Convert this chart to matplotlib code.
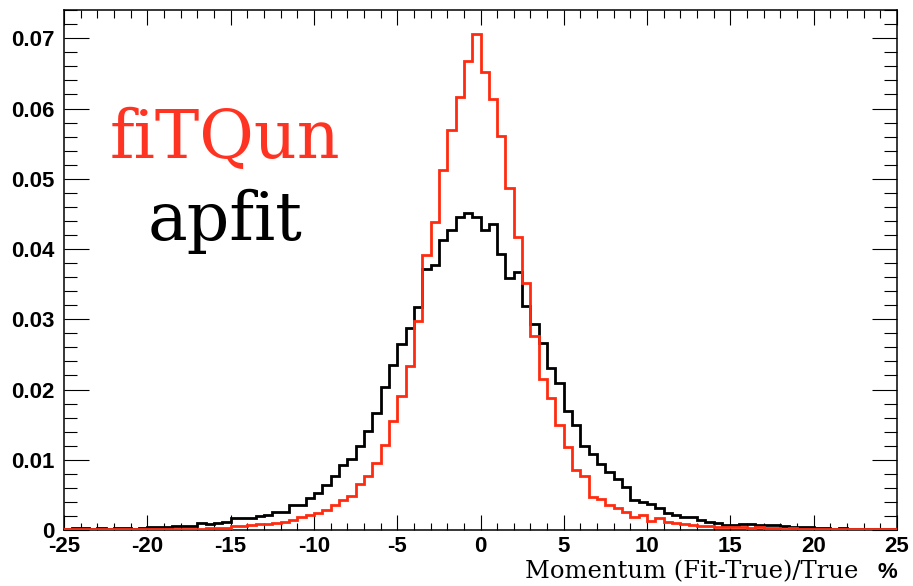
import numpy as np
import matplotlib
matplotlib.use("Agg")
import matplotlib.pyplot as plt
from matplotlib.ticker import MultipleLocator, FixedLocator

# ---- data ----
bin_lo, bin_hi, n_bins = -25.0, 25.0, 100

apfit = [
    0.0002, 0.0003, 0.0003, 0.0002, 0.0003, 0.0002, 0.0003, 0.0003, 0.0002, 0.0003,
    0.0004, 0.0004, 0.0004, 0.0006, 0.0006, 0.0006, 0.0010, 0.0009, 0.0010, 0.0012,
    0.0017, 0.0017, 0.0017, 0.0020, 0.0022, 0.0026, 0.0026, 0.0036, 0.0036, 0.0045,
    0.0052, 0.0064, 0.0077, 0.0093, 0.0101, 0.0120, 0.0141, 0.0167, 0.0203, 0.0235,
    0.0265, 0.0288, 0.0318, 0.0371, 0.0377, 0.0413, 0.0427, 0.0446, 0.0452, 0.0446,
    0.0427, 0.0435, 0.0393, 0.0359, 0.0368, 0.0319, 0.0293, 0.0266, 0.0231, 0.0209,
    0.0170, 0.0149, 0.0119, 0.0108, 0.0094, 0.0083, 0.0072, 0.0061, 0.0043, 0.0040,
    0.0037, 0.0031, 0.0024, 0.0021, 0.0019, 0.0018, 0.0014, 0.0011, 0.0010, 0.0007,
    0.0007, 0.0008, 0.0008, 0.0007, 0.0007, 0.0007, 0.0005, 0.0004, 0.0004, 0.0004,
    0.0003, 0.0003, 0.0002, 0.0003, 0.0002, 0.0002, 0.0002, 0.0001, 0.0002, 0.0001,
]

fitqun = [
    0.0001, 0.0001, 0.0002, 0.0001, 0.0001, 0.0002, 0.0001, 0.0002, 0.0001, 0.0002,
    0.0002, 0.0002, 0.0001, 0.0002, 0.0002, 0.0002, 0.0002, 0.0003, 0.0003, 0.0003,
    0.0005, 0.0006, 0.0007, 0.0008, 0.0009, 0.0010, 0.0011, 0.0014, 0.0018, 0.0021,
    0.0024, 0.0029, 0.0036, 0.0043, 0.0049, 0.0065, 0.0077, 0.0096, 0.0121, 0.0155,
    0.0191, 0.0234, 0.0297, 0.0391, 0.0439, 0.0513, 0.0570, 0.0617, 0.0667, 0.0706,
    0.0652, 0.0613, 0.0561, 0.0487, 0.0417, 0.0352, 0.0276, 0.0215, 0.0188, 0.0149,
    0.0118, 0.0085, 0.0077, 0.0047, 0.0044, 0.0036, 0.0031, 0.0026, 0.0019, 0.0021,
    0.0013, 0.0017, 0.0011, 0.0010, 0.0008, 0.0007, 0.0006, 0.0005, 0.0004, 0.0004,
    0.0004, 0.0004, 0.0003, 0.0004, 0.0003, 0.0003, 0.0002, 0.0003, 0.0002, 0.0002,
    0.0002, 0.0002, 0.0001, 0.0002, 0.0001, 0.0001, 0.0002, 0.0001, 0.0001, 0.0001,
]

x_ticks = [-25, -20, -15, -10, -5, 0, 5, 10, 15, 20, 25]
x_tick_labels = ["-25", "-20", "-15", "-10", "-5", "0", "5", "10", "15", "20", "25"]
y_ticks = [0, 0.01, 0.02, 0.03, 0.04, 0.05, 0.06, 0.07]
y_tick_labels = ["0", "0.01", "0.02", "0.03", "0.04", "0.05", "0.06", "0.07"]

series_names = ["fiTQun", "apfit"]
x_label = "Momentum (Fit-True)/True"
x_unit = "%"

# ---- style ----
RED = "#ff2b11"
RED_TEXT = "#ff3322"
BLACK = "#000000"
SANS = ["Liberation Sans", "DejaVu Sans"]

fig = plt.figure(figsize=(9.13, 5.86), dpi=100)
ax = fig.add_axes([64 / 913, 1 - 530 / 586, (897 - 64) / 913, (530 - 9.5) / 586])

edges = np.linspace(bin_lo, bin_hi, n_bins + 1)
ax.stairs(apfit, edges, baseline=0, color=BLACK, linewidth=2.0, zorder=3)
ax.stairs(fitqun, edges, baseline=0, color=RED, linewidth=2.0, zorder=4)

ax.set_xlim(bin_lo, bin_hi)
ax.set_ylim(0, 0.0741)

ax.xaxis.set_major_locator(FixedLocator(x_ticks))
ax.set_xticklabels(x_tick_labels)
ax.xaxis.set_minor_locator(MultipleLocator(1))
ax.yaxis.set_major_locator(FixedLocator(y_ticks))
ax.set_yticklabels(y_tick_labels)
ax.yaxis.set_minor_locator(MultipleLocator(0.002))

for lab in ax.get_xticklabels() + ax.get_yticklabels():
    lab.set_fontfamily(SANS)
    lab.set_fontweight("bold")
    lab.set_fontsize(16)

ax.tick_params(axis="x", which="major", direction="in", length=10.8, width=0.8,
               top=True, bottom=True, pad=4)
ax.tick_params(axis="x", which="minor", direction="in", length=5.4, width=0.8,
               top=True, bottom=True)
ax.tick_params(axis="y", which="major", direction="in", length=18, width=0.8,
               left=True, right=True, pad=7)
ax.tick_params(axis="y", which="minor", direction="in", length=9.5, width=0.8,
               left=True, right=True)

for sp in ax.spines.values():
    sp.set_linewidth(1.1)

# series labels
fig.text(110 / 913, 1 - 158 / 586, series_names[0], color=RED_TEXT,
         fontsize=48, family="DejaVu Serif", va="baseline", ha="left")
fig.text(148 / 913, 1 - 240 / 586, series_names[1], color=BLACK,
         fontsize=48, family="DejaVu Serif", va="baseline", ha="left")

# axis title
fig.text(858 / 913, 1 - 578 / 586, x_label, fontsize=17.5, family="DejaVu Serif",
         ha="right", va="baseline")
fig.text(897 / 913, 1 - 578 / 586, x_unit, fontsize=16, weight="bold",
         family=SANS, ha="right", va="baseline")

fig.savefig("out.png", dpi=100)
